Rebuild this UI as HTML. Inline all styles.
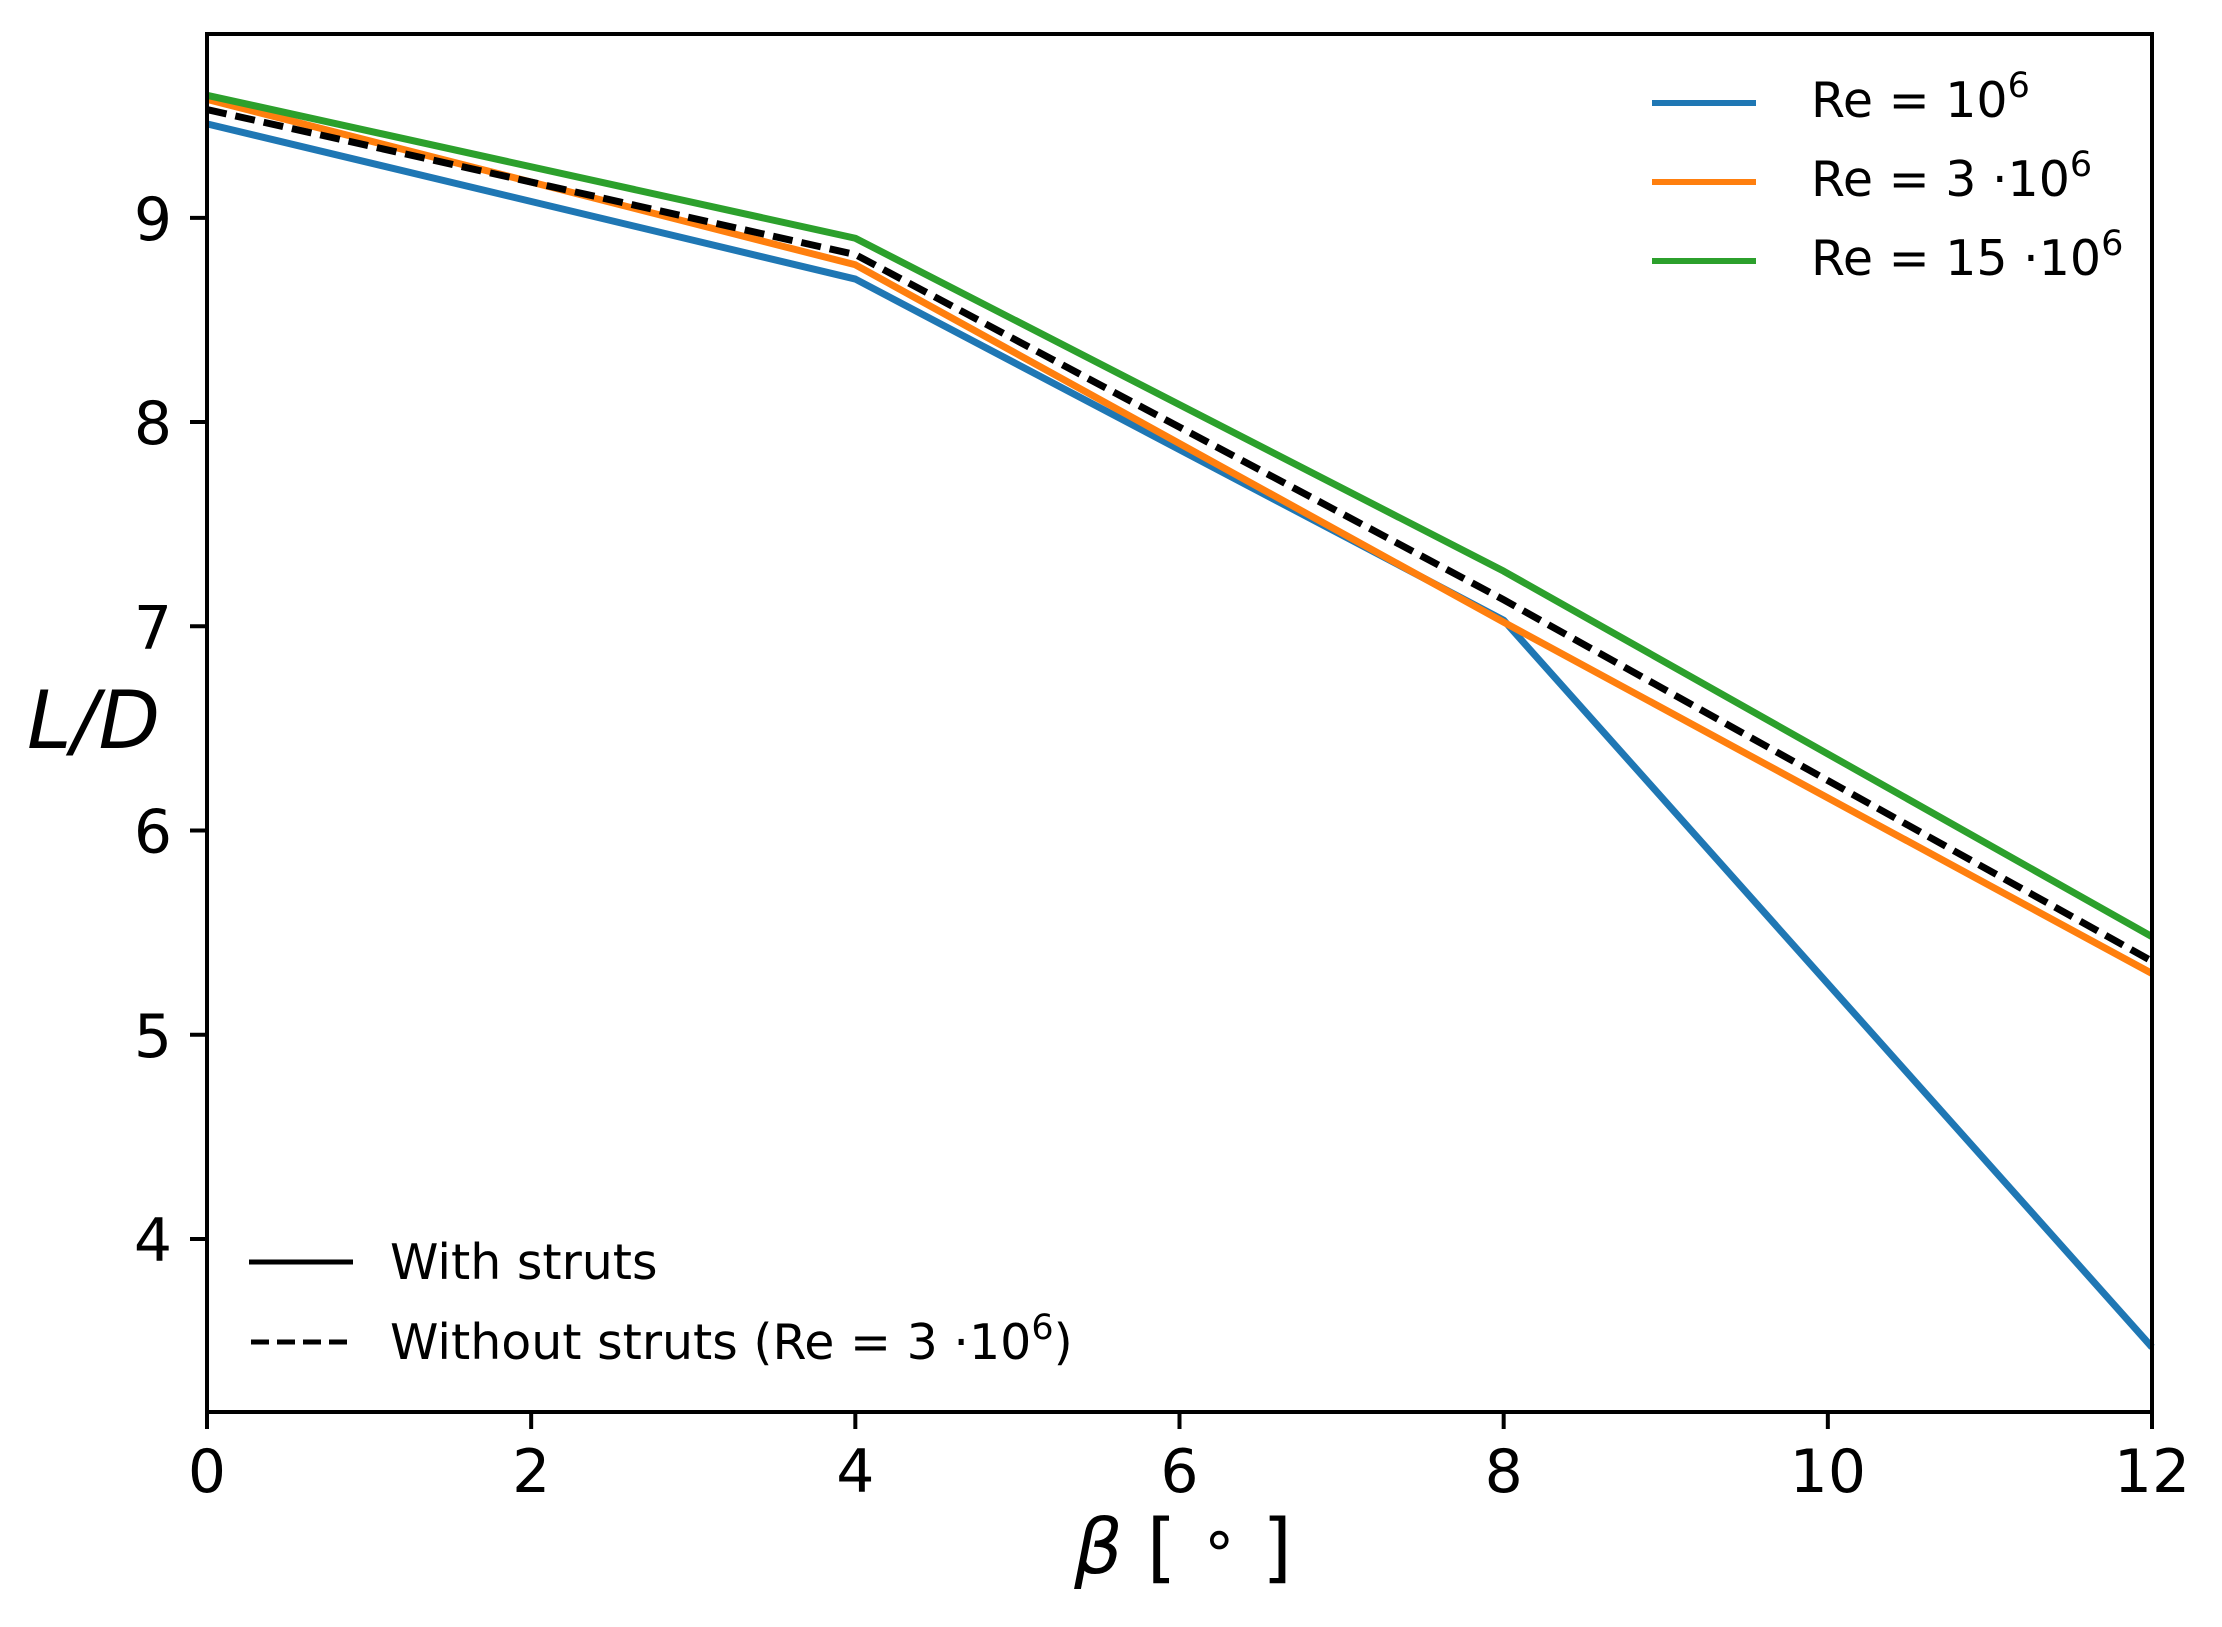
<!DOCTYPE html>
<html><head><meta charset="utf-8"><style>
html,body{margin:0;padding:0;background:#fff;}
svg text{font-family:"DejaVu Sans","Liberation Sans",sans-serif;fill:#000;}
</style></head><body>
<svg id="chart" width="2222" height="1622" viewBox="0 0 2222 1622" xmlns="http://www.w3.org/2000/svg">
<rect x="0" y="0" width="2222" height="1622" fill="#fff"/>
<g id="series"></g>
<g id="axes"></g>
<text x="1183" y="1573" text-anchor="middle" font-size="76"><tspan font-style="italic">β</tspan> [ <tspan font-size="60" dy="-14">∘</tspan><tspan dy="14"> ]</tspan></text>
<text x="27" y="748" font-size="80" font-style="italic">L/D</text>
<g>
  <line x1="1652" y1="103" x2="1756" y2="103" stroke="#1f77b4" stroke-width="6"/>
  <text x="1811" y="117" font-size="49">Re = 10<tspan dy="-20" font-size="35">6</tspan></text>
  <line x1="1652" y1="182" x2="1756" y2="182" stroke="#ff7f0e" stroke-width="6"/>
  <text x="1811" y="196" font-size="49">Re = 3 ·10<tspan dy="-20" font-size="35">6</tspan></text>
  <line x1="1652" y1="261" x2="1756" y2="261" stroke="#2ca02c" stroke-width="6"/>
  <text x="1811" y="275" font-size="49">Re = 15 ·10<tspan dy="-20" font-size="35">6</tspan></text>
</g>
<g>
  <line x1="249" y1="1262" x2="353" y2="1262" stroke="#000" stroke-width="5"/>
  <text x="390" y="1279" font-size="49">With struts</text>
  <line x1="251" y1="1342" x2="353" y2="1342" stroke="#000" stroke-width="5" stroke-dasharray="18,8"/>
  <text x="390" y="1359" font-size="49">Without struts (Re = 3 ·10<tspan dy="-20" font-size="35">6</tspan><tspan dy="20">)</tspan></text>
</g>
</svg>
<script>
const xValues = [0, 4, 8, 12];
const re1Values = [9.46, 8.70, 7.03, 3.47];
const re3Values = [9.58, 8.77, 7.02, 5.30];
const re15Values = [9.60, 8.90, 7.27, 5.48];
const noStrutValues = [9.53, 8.82, 7.13, 5.36];
const xTicks = [0, 2, 4, 6, 8, 10, 12];
const yTicks = [4, 5, 6, 7, 8, 9];

const L = 207, R = 2152, T = 34, B = 1412;
const xMin = 0, xMax = 12, yMin = 3.153, yMax = 9.90;
function sx(v){ return L + (v - xMin) / (xMax - xMin) * (R - L); }
function sy(v){ return B - (v - yMin) / (yMax - yMin) * (B - T); }
const NS = 'http://www.w3.org/2000/svg';
const series = document.getElementById('series');
const axes = document.getElementById('axes');

function drawLine(vals, color, name, dash){
  const p = document.createElementNS(NS, 'polyline');
  p.setAttribute('points', xValues.map((x,i)=>sx(x)+','+sy(vals[i])).join(' '));
  p.setAttribute('fill', 'none');
  p.setAttribute('stroke', color);
  p.setAttribute('stroke-width', '7');
  p.setAttribute('stroke-linejoin', 'round');
  if (dash) p.setAttribute('stroke-dasharray', dash);
  
  
  series.appendChild(p);
}
drawLine(re1Values, '#1f77b4', 'series-re-1e6');
drawLine(re3Values, '#ff7f0e', 'series-re-3e6');
drawLine(re15Values, '#2ca02c', 'series-re-15e6');
drawLine(noStrutValues, '#000000', 'series-without-struts', '20,9');

const frame = document.createElementNS(NS, 'rect');
frame.setAttribute('x', L); frame.setAttribute('y', T);
frame.setAttribute('width', R - L); frame.setAttribute('height', B - T);
frame.setAttribute('fill', 'none'); frame.setAttribute('stroke', '#000'); frame.setAttribute('stroke-width', '4');


axes.appendChild(frame);

xTicks.forEach(t => {
  const x = sx(t);
  const ln = document.createElementNS(NS, 'line');
  ln.setAttribute('x1', x); ln.setAttribute('x2', x); ln.setAttribute('y1', B); ln.setAttribute('y2', B + 17);
  ln.setAttribute('stroke', '#000'); ln.setAttribute('stroke-width', '4');
  
  
  axes.appendChild(ln);
  const tx = document.createElementNS(NS, 'text');
  tx.setAttribute('x', x); tx.setAttribute('y', B + 80);
  tx.setAttribute('text-anchor', 'middle'); tx.setAttribute('font-size', '60');
  tx.textContent = t;
  
  
  axes.appendChild(tx);
});
yTicks.forEach(t => {
  const y = sy(t);
  const ln = document.createElementNS(NS, 'line');
  ln.setAttribute('x1', L - 17); ln.setAttribute('x2', L); ln.setAttribute('y1', y); ln.setAttribute('y2', y);
  ln.setAttribute('stroke', '#000'); ln.setAttribute('stroke-width', '4');
  
  
  axes.appendChild(ln);
  const tx = document.createElementNS(NS, 'text');
  tx.setAttribute('x', L - 35); tx.setAttribute('y', y + 22);
  tx.setAttribute('text-anchor', 'end'); tx.setAttribute('font-size', '60');
  tx.textContent = t;
  
  
  axes.appendChild(tx);
});
</script>
</body></html>
